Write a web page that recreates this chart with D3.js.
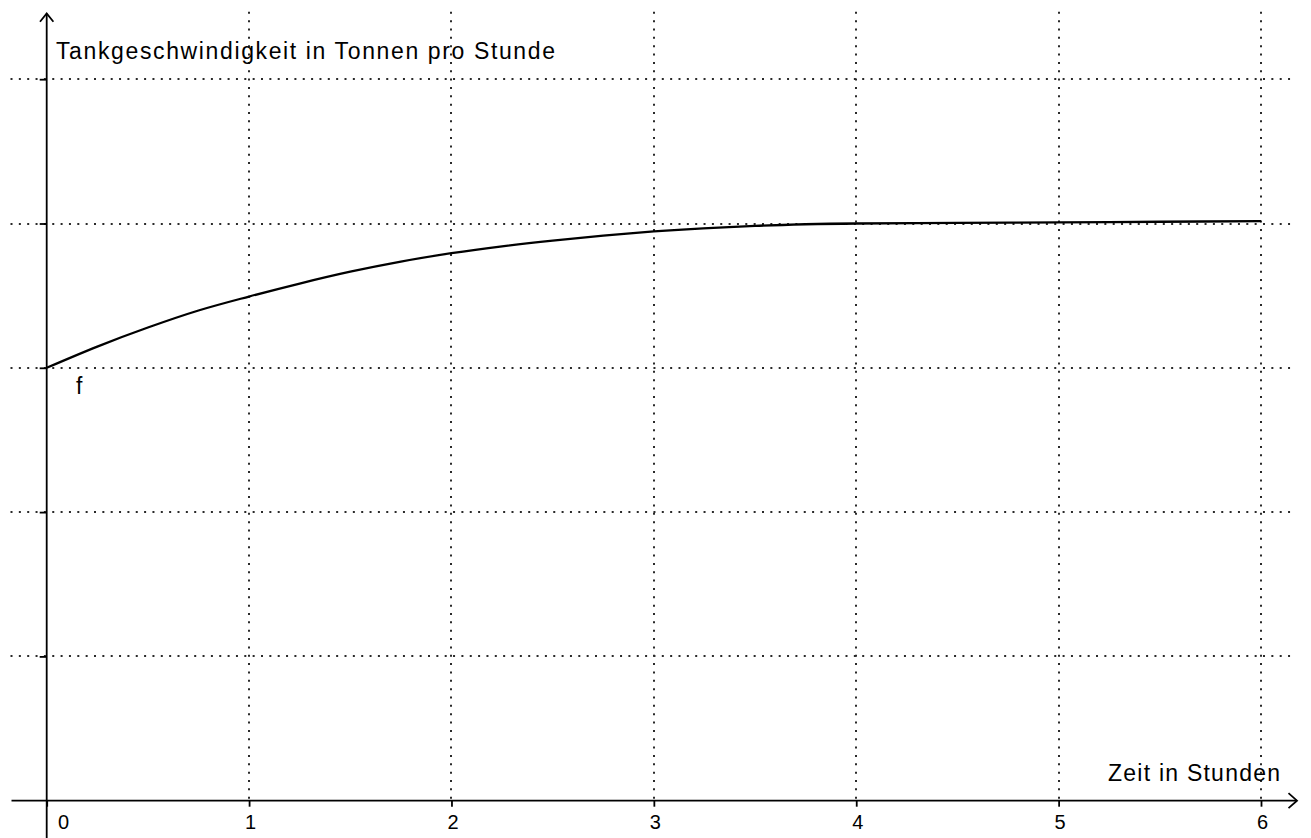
<!DOCTYPE html>
<html>
<head>
<meta charset="utf-8">
<script src="https://cdn.jsdelivr.net/npm/d3@7"></script>
<style>
  html, body { margin: 0; padding: 0; background: #fff; }
  svg { display: block; }
  text { font-family: "Liberation Sans", Arial, sans-serif; fill: #000; }
</style>
</head>
<body>
<svg id="chart" width="1311" height="838"></svg>
<script>
// ---- data ----
const hours = [0, 0.25, 0.5, 0.75, 1, 1.25, 1.5, 1.75, 2, 2.25, 2.5, 2.75, 3, 3.5, 4, 4.5, 5, 5.5, 6];
const rate  = [3.000, 3.147, 3.279, 3.397, 3.494, 3.584, 3.666, 3.736, 3.794, 3.842, 3.882, 3.916, 3.945, 3.984, 4.000, 4.004, 4.008, 4.012, 4.017];
const xTicks = [0, 1, 2, 3, 4, 5, 6];
const xTickLabels = ["0", "1", "2", "3", "4", "5", "6"];
const yGrid = [1, 2, 3, 4, 5];
const yTitle = "Tankgeschwindigkeit in Tonnen pro Stunde";
const xTitle = "Zeit in Stunden";
const funcName = "f";

// ---- layout ----
const svg = d3.select("#chart");
const x = d3.scaleLinear().domain([0, 6]).range([46.7, 1261]);
const y = d3.scaleLinear().domain([0, 5]).range([800.7, 79.2]);

const gridStyle = sel => sel
  .attr("stroke", "#2a2a2a")
  .attr("stroke-width", 2)
  .attr("stroke-dasharray", "2,6.35")
  .attr("fill", "none");

// vertical grid lines
svg.append("g").selectAll("line")
  .data(xTicks.filter(d => d > 0))
  .join("line")
  .attr("x1", d => Math.round(x(d)))
  .attr("x2", d => Math.round(x(d)))
  .attr("y1", y(0) - 2)
  .attr("y2", 9)
  .call(gridStyle);

// horizontal grid lines
svg.append("g").selectAll("line")
  .data(yGrid)
  .join("line")
  .attr("x1", 10.5)
  .attr("x2", 1294)
  .attr("y1", d => Math.round(y(d)))
  .attr("y2", d => Math.round(y(d)))
  .call(gridStyle);

// x axis ticks + labels
const xAxis = d3.axisBottom(x)
  .tickValues(xTicks)
  .tickSize(6)
  .tickSizeOuter(0)
  .tickFormat((d, i) => xTickLabels[i]);
const gx = svg.append("g")
  .attr("transform", `translate(0,${y(0)})`)
  .call(xAxis);
gx.select(".domain").remove();
gx.selectAll(".tick line").attr("stroke", "#000").attr("stroke-width", 1.8);
gx.selectAll(".tick text")
  .attr("y", 28.6)
  .attr("dy", null)
  .attr("x", d => d === 0 ? 16.3 : 1)
  .style("font-family", '"Liberation Sans", Arial, sans-serif')
  .style("font-size", "20px")
  .attr("fill", "#000");

// y axis ticks (no labels)
const yAxis = d3.axisLeft(y)
  .tickValues(yGrid)
  .tickSize(7)
  .tickSizeOuter(0)
  .tickFormat("");
const gy = svg.append("g")
  .attr("transform", `translate(${x(0)},0)`)
  .call(yAxis);
gy.select(".domain").remove();
gy.selectAll(".tick line").attr("stroke", "#000").attr("stroke-width", 1.8);

// axis lines with open arrow heads
const axisG = svg.append("g").attr("stroke", "#000").attr("stroke-width", 1.8).attr("fill", "none");
axisG.append("line").attr("x1", 11.5).attr("x2", 1297).attr("y1", y(0)).attr("y2", y(0));
axisG.append("path").attr("d", `M${1288.5},${y(0) - 7.5} L1297,${y(0)} L${1288.5},${y(0) + 7.5}`);
axisG.append("line").attr("x1", x(0)).attr("x2", x(0)).attr("y1", 838).attr("y2", 13.5);
axisG.append("path").attr("d", `M${x(0) - 6.7},21.7 L${x(0)},13.5 L${x(0) + 6.7},21.7`);

// function curve
const pts = hours.map((h, i) => [h, rate[i]]);
const lineGen = d3.line()
  .x(d => x(d[0]))
  .y(d => y(d[1]))
  .curve(d3.curveMonotoneX);
svg.append("path")
  .datum(pts)
  .attr("fill", "none")
  .attr("stroke", "#000")
  .attr("stroke-width", 2.3)
  .attr("stroke-linejoin", "round")
  .attr("d", lineGen);

// texts
svg.append("text")
  .attr("x", 56).attr("y", 59.3)
  .attr("textLength", 499).attr("lengthAdjust", "spacing")
  .style("font-size", "23px")
  .text(yTitle);

svg.append("text")
  .attr("x", 1108).attr("y", 781)
  .attr("textLength", 172).attr("lengthAdjust", "spacing")
  .style("font-size", "23px")
  .text(xTitle);

svg.append("text")
  .attr("x", 76).attr("y", 393.5)
  .style("font-size", "23px")
  .text(funcName);
</script>
</body>
</html>
